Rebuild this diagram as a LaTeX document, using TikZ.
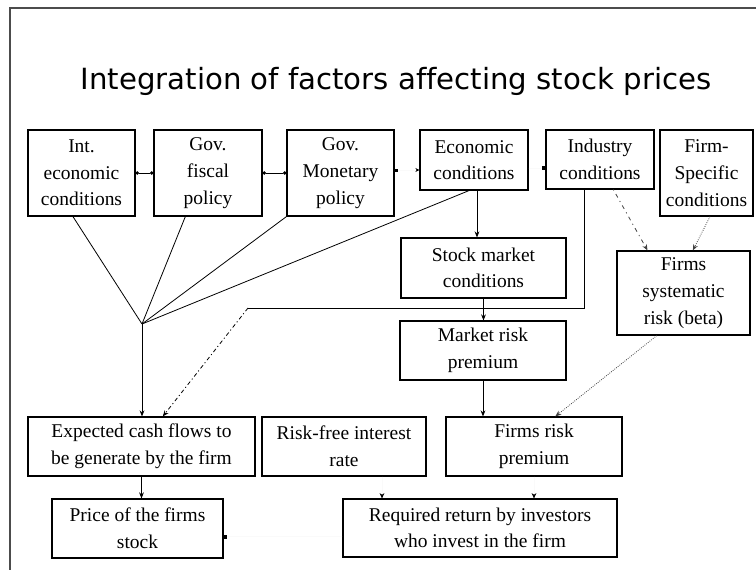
\documentclass[tikz,border=0pt]{standalone}
\usepackage{fontspec}
\setmainfont{Liberation Serif}
\newfontfamily\headfont{DejaVu Sans}[Ligatures=NoCommon]
\usetikzlibrary{arrows.meta}

\begin{document}
\begin{tikzpicture}[x=0.75pt, y=-0.75pt, every node/.style={font=\fontsize{14.6}{20}\selectfont},
	box/.style 2 args={draw, line width=0.9pt, align=center, inner sep=0pt, minimum width=#1, minimum height=#2},
	link/.style={line width=0.6pt, -{Stealth[length=4.5pt, width=3.6pt]}},
	pair/.style={line width=0.6pt, {Circle[length=2.6pt]}-{Circle[length=2.6pt]}},
	faint/.style={draw=black!2, line width=0.5pt, -{Stealth[length=4pt, width=3.6pt, color=black]}}]
	\useasboundingbox (0,0) rectangle (756,570);
	\draw[black!70, line width=1pt] (10,570) -- (10,8) -- (756,8);
	\node[anchor=base, font=\headfont\fontsize{21.9}{26}\selectfont] (title) at (396,90) {Integration of factors affecting stock prices};
	\node[box={80.25pt}{64.5pt}] (intl) at (81.5,173) {Int.\\economic\\conditions};
	\node[box={81pt}{64.5pt}] (fisc) at (208,173) {Gov.\\fiscal\\policy};
	\node[box={80.25pt}{64.5pt}] (mone) at (340.5,173) {Gov.\\Monetary\\policy};
	\node[box={81pt}{45pt}] (econ) at (474,160) {Economic\\conditions};
	\node[box={81pt}{44.25pt}] (indu) at (600,159.5) {Industry\\conditions};
	\node[box={69.75pt}{64.5pt}] (firm) at (706.5,173) {Firm-\\Specific\\conditions};
	\node[box={123.75pt}{45pt}] (stkm) at (483.5,268) {Stock market\\conditions};
	\node[box={99.75pt}{63pt}] (syst) at (683.5,293) {Firms\\systematic\\risk (beta)};
	\node[box={124.5pt}{44.25pt}] (mrkt) at (483,350.5) {Market risk\\premium};
	\node[box={132pt}{44.25pt}] (frp) at (534,446.5) {Firms risk\\premium};
	\node[box={123pt}{44.25pt}] (rfr) at (344,446.5) {Risk-free interest\\rate};
	\node[box={170.25pt}{44.25pt}] (cash) at (141.5,446.5) {Expected cash flows to\\be generate by the firm};
	\node[box={128.25pt}{44.25pt}] (price) at (137.5,528.5) {Price of the firms\\stock};
	\node[box={205.5pt}{43.5pt}] (req) at (480,528) {Required return by investors\\who invest in the firm};
	\draw[pair] (intl.east) -- (fisc.west);
	\draw[pair] (fisc.east) -- (mone.west);
	\draw[faint, {Square[length=2.2pt, color=black]}-{Stealth[length=3pt, width=3pt, color=black]}] ([yshift=2.25pt]mone.east) -- ([yshift=2.25pt]mone.east -| econ.west);
	\draw[faint, -{Square[length=2.4pt, color=black]}] ([yshift=-6pt]econ.east) -- ([yshift=-6pt]econ.east -| indu.west);
	\coordinate (hub) at (142,324);
	\coordinate (f1) at ([xshift=-6.4pt]intl.south);
	\coordinate (f2) at ([xshift=-17pt]fisc.south);
	\coordinate (f4) at ([xshift=-3.75pt]econ.south);
	\foreach \s in {f1, f2, mone.south west, f4} {\draw[line width=0.6pt] (\s) -- (hub);}
	\draw[link] (hub) -- (hub |- cash.north);
	\coordinate (bend) at (248,308);
	\draw[line width=0.6pt] ([xshift=-12pt]indu.south) |- (bend);
	\draw[link, dash pattern=on 3pt off 2pt on 0.8pt off 2pt] (bend) -- ([xshift=16pt]cash.north);
	\draw[link] ([xshift=2.25pt]econ.south) -- ([xshift=2.25pt]econ.south |- stkm.north);
	\draw[link] (stkm.south) -- (stkm.south |- mrkt.north);
	\draw[link] (mrkt.south) -- (mrkt.south |- frp.north);
	\draw[link, black!75, densely dotted] ([xshift=-20pt]syst.south) -- ([xshift=16pt]frp.north);
	\draw[link, black!75, dash pattern=on 0.8pt off 3pt on 3pt off 3pt] ([xshift=10pt]indu.south) -- ([xshift=-27pt]syst.north);
	\draw[link, black!75, densely dotted] ([xshift=2.6pt]firm.south) -- ([xshift=7pt]syst.north);
	\draw[link] (cash.south) -- (cash.south |- price.north);
	\draw[faint] ([xshift=28.5pt]rfr.south) -- ([xshift=28.5pt]rfr.south |- req.north);
	\draw[faint] (frp.south) -- (frp.south |- req.north);
	\draw[faint, -{Square[length=2.5pt, color=black]}] ([yshift=-6.4pt]req.west) -- ([yshift=-6.4pt]req.west -| price.east);
\end{tikzpicture}
\end{document}
